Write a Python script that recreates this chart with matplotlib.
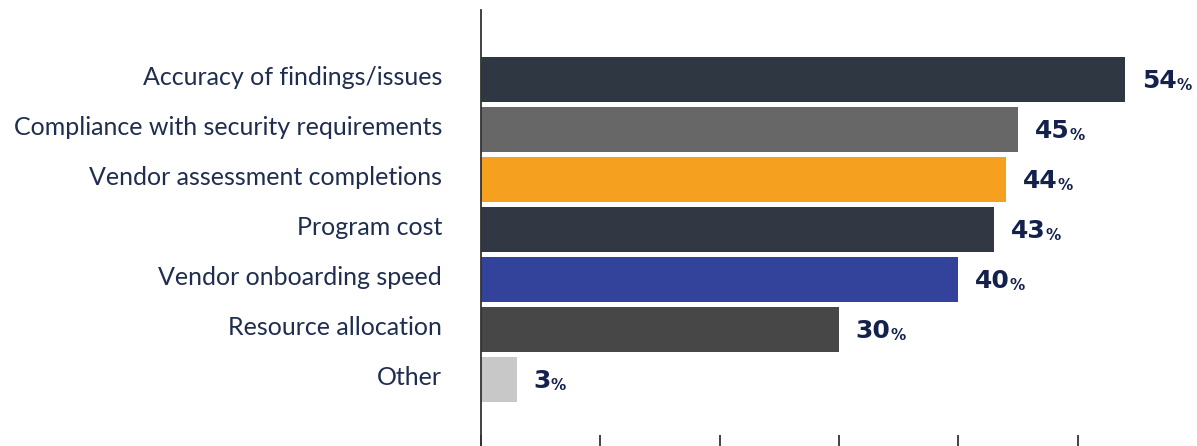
import matplotlib
matplotlib.use("Agg")
import matplotlib.pyplot as plt

categories = ["Accuracy of findings/issues", "Compliance with security requirements",
              "Vendor assessment completions", "Program cost", "Vendor onboarding speed",
              "Resource allocation", "Other"]
values = [54, 45, 44, 43, 40, 30, 3]
colors = ["#2f3742", "#676767", "#f5a01e", "#323843", "#33439b", "#474747", "#c8c8c8"]
xticks = [0, 10, 20, 30, 40, 50]

fig = plt.figure(figsize=(11.97, 4.46), dpi=100)
ax = fig.add_axes([481/1197, 0, 1 - 481/1197, 1 - 10/446])

y = list(range(len(categories)))
ax.barh(y, values, height=0.9, color=colors)
ax.set_xlim(0, 60)
ax.set_ylim(6 + 1.33, -1.39)

ax.set_yticks([])
for yi, cat in zip(y, categories):
    ax.annotate(cat, xy=(0, yi), xytext=(-39 * 0.72, 2 * 0.72), textcoords="offset points",
                ha="right", va="center", fontsize=18, color="#1f2d4f", family="Lato",
                annotation_clip=False)

ax.set_xticks(xticks)
ax.set_xticklabels([])
ax.tick_params(axis="x", direction="in", length=8, width=1.2, color="#222222")

for s in ["top", "right"]:
    ax.spines[s].set_visible(False)
ax.spines["bottom"].set_visible(False)
ax.spines["left"].set_color("#333333")
ax.spines["left"].set_linewidth(1.3)

for yi, v in zip(y, values):
    t = ax.annotate(f"{v}", xy=(v, yi), xytext=(12, -1), textcoords="offset points",
                    ha="left", va="center", fontsize=18, fontweight="heavy",
                    color="#15214d", family="DejaVu Sans")
    ax.annotate("%", xy=(1, 0), xycoords=t, xytext=(0, 0), textcoords="offset points",
                ha="left", va="bottom", fontsize=11, fontweight="bold",
                color="#15214d", family="DejaVu Sans")

fig.savefig("out.png", dpi=100)
